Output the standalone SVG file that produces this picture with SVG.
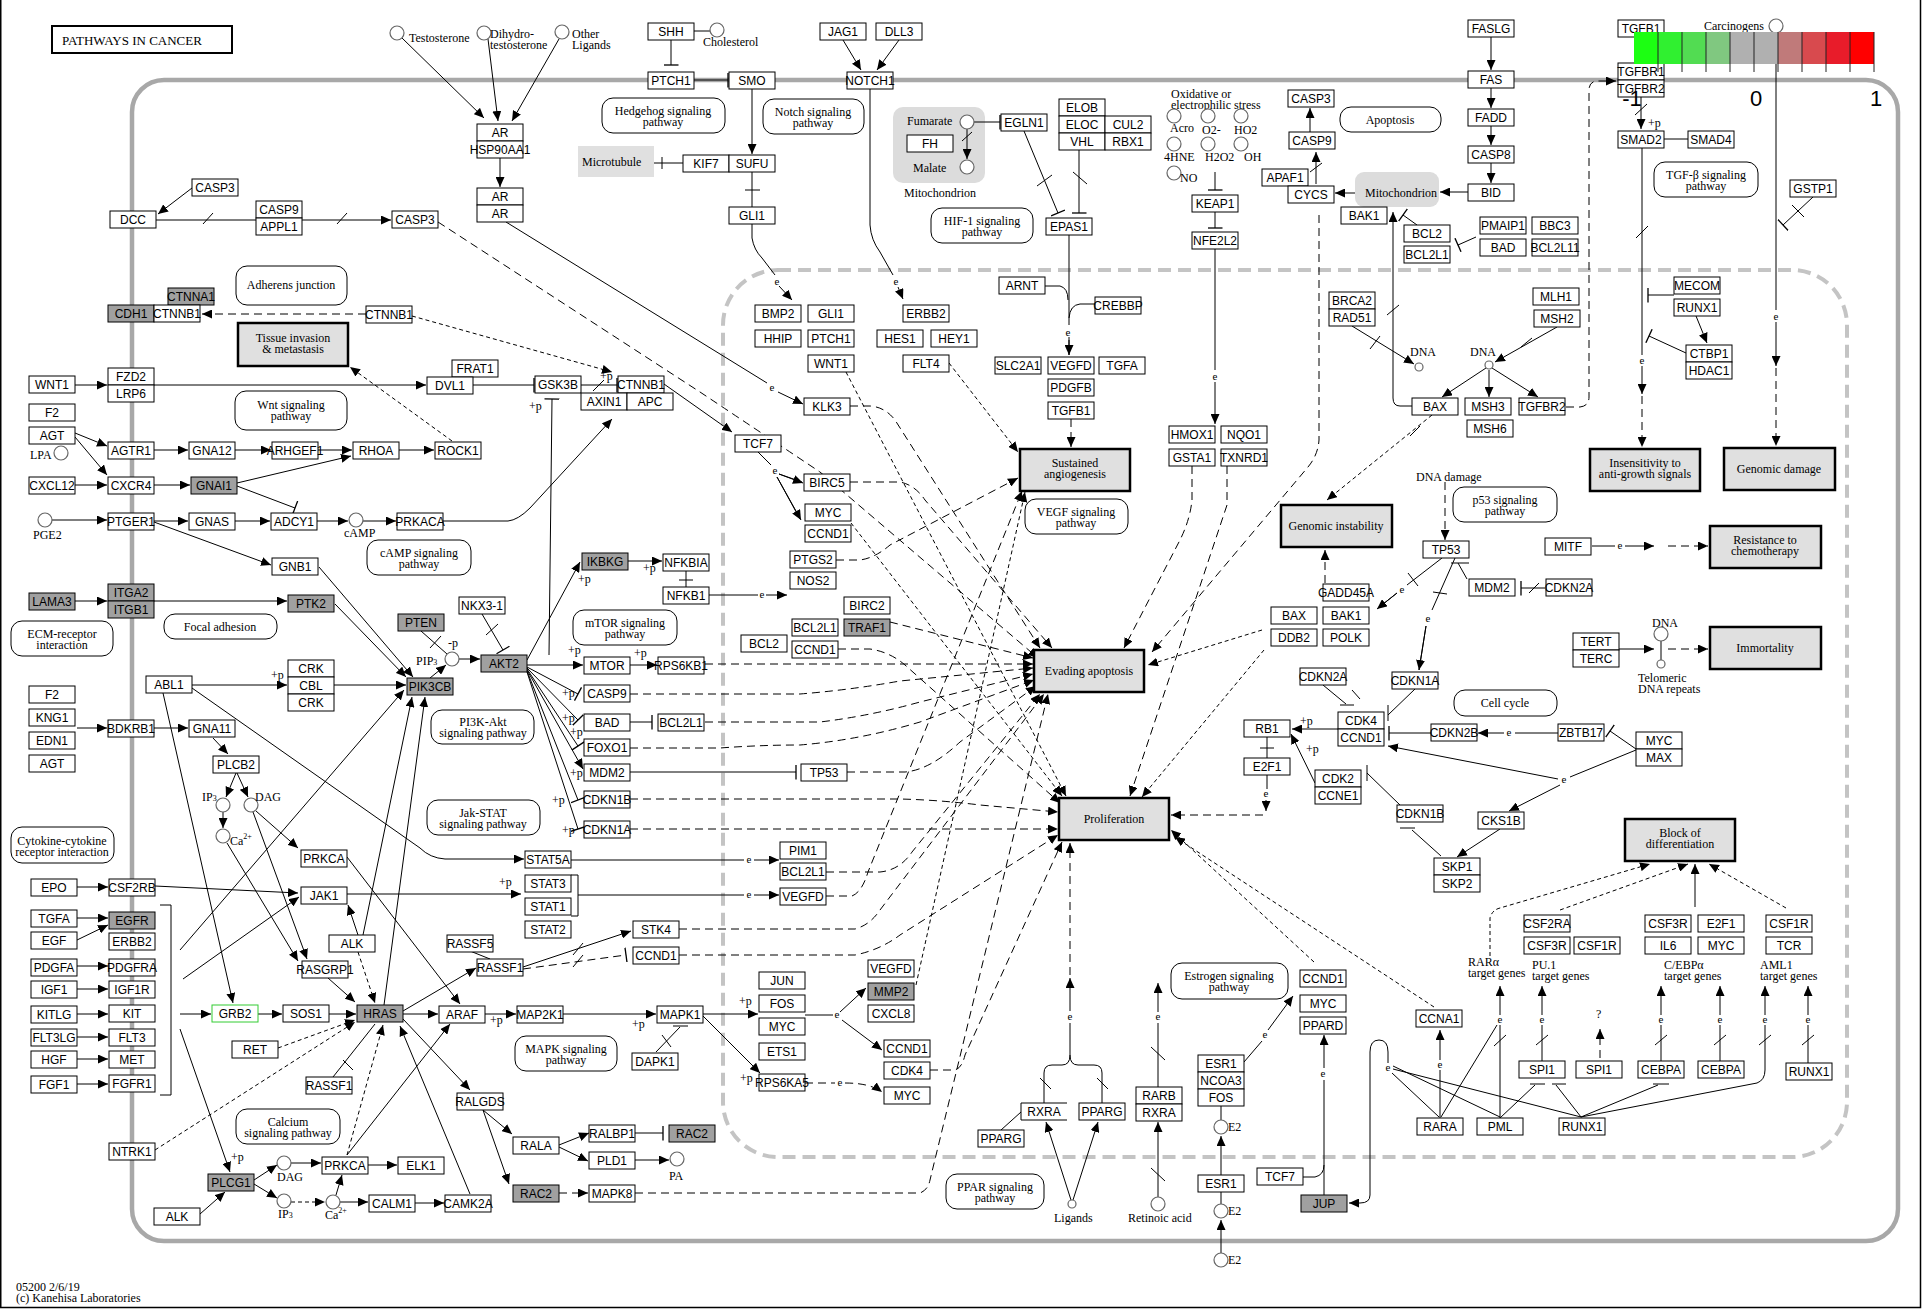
<svg xmlns="http://www.w3.org/2000/svg" width="1922" height="1309" viewBox="0 0 1922 1309">
<defs>
<marker id="a" markerUnits="userSpaceOnUse" markerWidth="10" markerHeight="9" viewBox="0 0 10 9" refX="10" refY="4.5" orient="auto"><path d="M0,0L10,4.5L0,9z" fill="#000"/></marker>
<marker id="b" markerUnits="userSpaceOnUse" markerWidth="3" markerHeight="15" viewBox="0 0 3 15" refX="1.5" refY="7.5" orient="auto"><path d="M1.5,0V15" stroke="#000" stroke-width="1.3"/></marker>
</defs>
<style>
.n rect{fill:#fff;stroke:#000;stroke-width:1}
.n rect.g{fill:#a0a0a0}
.t{font-family:"Liberation Sans",Arial,sans-serif;font-size:12px;text-anchor:middle;fill:#000}
.s{font-family:"Liberation Serif","Times New Roman",serif;font-size:12px;fill:#000}
.m{text-anchor:middle}
.p rect{fill:#e0e0e0;stroke:#000;stroke-width:2.5}
.w rect{fill:#fff;stroke:#000;stroke-width:1}
.c{fill:#fff;stroke:#666;stroke-width:1.2}
#edges path{fill:none;stroke:#000;stroke-width:1}
#edges path.d{stroke-dasharray:8 5}
#edges path.f{stroke-dasharray:4 3}
.e{font-family:"Liberation Serif","Times New Roman",serif;font-size:11px;text-anchor:middle}
</style>
<rect x="0" y="0" width="1922" height="1309" fill="#fff"/>
<path d="M0.75,0V1307.5H1920.5V0" fill="none" stroke="#000" stroke-width="1.5"/>
<g id="compartments">
<rect x="132" y="80" width="1766" height="1161" rx="32" fill="none" stroke="#a8a8a8" stroke-width="4.5"/>
<rect x="723" y="270" width="1124" height="887" rx="55" fill="none" stroke="#c4c4c4" stroke-width="4" stroke-dasharray="13 7"/>
<rect x="893" y="107" width="92" height="76" rx="10" fill="#dcdcdc"/>
<rect x="578" y="146" width="76" height="31" fill="#e0e0e0"/>
<rect x="1355" y="172" width="84" height="35" rx="9" fill="#dcdcdc"/>
</g>
<g id="title"><rect x="52" y="26" width="180" height="27" fill="#fff" stroke="#000" stroke-width="2"/><text class="s" x="62" y="45" style="font-size:13px">PATHWAYS IN CANCER</text></g>

<g id="edges">
<!-- top left -->
<path d="M192,188L158,214" marker-end="url(#a)"/>
<path d="M156,220L391,220" marker-end="url(#a)"/>
<path d="M203,224L213,213M337,224L347,213"/>
<path class="d" d="M438,222L700,392Q760,432 820,472L1038,658" marker-end="url(#a)"/>
<path class="d" d="M366,314L202,314" marker-end="url(#a)"/>
<path class="f" d="M412,316L612,372" marker-end="url(#a)"/>
<path class="f" d="M452,441L350,367" marker-end="url(#a)"/>
<path d="M75,385L107,385" marker-end="url(#a)"/>
<path d="M154,385L426,385" marker-end="url(#a)"/>
<path d="M473,385L534,385" marker-end="url(#b)"/>
<path d="M581,385L617,385" marker-end="url(#b)"/>
<path d="M593,391L604,380"/>
<path d="M549,655L552,399" marker-end="url(#b)"/>
<path d="M443,521L508,521Q518,520 530,508L612,419" marker-end="url(#a)"/>
<path d="M664,384L732,432" marker-end="url(#a)"/>
<path d="M758,452L771,465M779,474L802,482M777,477L800,519"/>
<path d="M779,474L803,483" marker-end="url(#a)"/>
<path d="M777,477L801,520" marker-end="url(#a)"/>
<path d="M402,38L484,118" marker-end="url(#a)"/>
<path d="M488,39L498,121" marker-end="url(#a)"/>
<path d="M559,39L512,121" marker-end="url(#a)"/>
<path d="M500,158L500,187" marker-end="url(#a)"/>
<path d="M506,222L767,383"/>
<path d="M778,392L803,404" marker-end="url(#a)"/>
<path d="M671,40L671,65" marker-end="url(#b)"/>
<path d="M694,31L710,31"/>
<path d="M694,80L728,80" marker-end="url(#b)"/>
<path d="M752,89L752,154" marker-end="url(#a)"/>
<path d="M654,163L683,163M662,157V169"/>
<path d="M752,172L752,207M745,190H760"/>
<path d="M752,224L752,238Q754,250 762,258L775,275"/>
<path d="M779,286L792,300" marker-end="url(#a)"/>
<path d="M870,89L870,225Q871,240 880,252L893,275"/>
<path d="M898,287L903,299" marker-end="url(#a)"/>
<path d="M843,40L861,70" marker-end="url(#a)"/>
<path d="M899,40L877,70" marker-end="url(#a)"/>
<!-- mitochondria / HIF -->
<path d="M974,122L1000,122" marker-end="url(#b)"/>
<path d="M967,129L967,159" marker-end="url(#a)"/>
<path d="M962,141L972,132"/>
<path d="M1024,131L1058,213" marker-end="url(#b)"/>
<path d="M1037,186L1052,175"/>
<path d="M1079,150L1079,213" marker-end="url(#b)"/>
<path d="M1073,172L1087,184"/>
<path d="M1069,235L1069,325M1069,337L1069,355"/>
<path d="M1069,340L1069,355" marker-end="url(#a)"/>
<path d="M1045,286L1060,286Q1068,288 1068,300"/>
<path d="M1095,304L1080,304Q1070,305 1069,318"/>
<path d="M1215,172L1215,190" marker-end="url(#b)"/>
<path d="M1215,212L1215,228" marker-end="url(#b)"/>
<path d="M1215,249L1215,370"/>
<path d="M1215,382L1215,424" marker-end="url(#a)"/>
<path d="M1310,132L1310,108" marker-end="url(#a)"/>
<path d="M1316,184L1316,152" marker-end="url(#a)"/>
<path d="M1310,172L1322,163"/>
<path d="M1355,193L1335,193" marker-end="url(#a)"/>
<path d="M1468,192L1440,192" marker-end="url(#a)"/>
<path d="M1491,37L1491,70" marker-end="url(#a)"/>
<path d="M1491,88L1491,108" marker-end="url(#a)"/>
<path d="M1491,126L1491,145" marker-end="url(#a)"/>
<path d="M1491,163L1491,183" marker-end="url(#a)"/>
<path d="M1412,406L1400,406Q1393,406 1393,398L1393,212" marker-end="url(#a)"/>
<path d="M1387,315L1399,305"/>
<path d="M1417,225L1403,215" marker-end="url(#b)"/>
<path d="M1476,237L1458,245" marker-end="url(#b)"/>
<path class="d" d="M1319,215L1319,440Q1318,455 1308,467L1152,652" marker-end="url(#a)"/>
<path d="M1352,326L1414,364" marker-end="url(#a)"/>
<path d="M1370,349L1380,336"/>
<path d="M1557,327L1495,362" marker-end="url(#a)"/>
<path d="M1521,347L1532,338"/>
<path d="M1486,368L1442,397" marker-end="url(#a)"/>
<path d="M1489,370L1489,397" marker-end="url(#a)"/>
<path d="M1492,368L1538,397" marker-end="url(#a)"/>
<path class="d" d="M1566,407L1580,407Q1589,406 1589,397L1589,90Q1589,81 1598,81L1616,81" marker-end="url(#a)"/>
<path class="f" d="M1432,415L1327,500" marker-end="url(#a)"/>
<path d="M1410,436L1420,426"/>
<path d="M1641,97L1641,129" marker-end="url(#a)"/>
<path d="M1635,115L1647,104"/>
<path d="M1664,139L1688,139"/>
<path d="M1642,148L1642,355"/>
<path d="M1642,366L1642,394" marker-end="url(#a)"/>
<path class="d" d="M1642,396L1642,447" marker-end="url(#a)"/>
<path d="M1636,238L1648,226"/>
<path d="M1674,295L1648,295" marker-end="url(#b)"/>
<path d="M1686,353L1649,336" marker-end="url(#b)"/>
<path d="M1696,316L1707,343" marker-end="url(#a)"/>
<path d="M1776,33L1776,310"/>
<path d="M1776,322L1776,366" marker-end="url(#a)"/>
<path class="d" d="M1776,368L1776,446" marker-end="url(#a)"/>
<path d="M1813,197L1783,225" marker-end="url(#b)"/>
<path d="M1792,205L1804,217"/>
<!-- left receptors -->
<path d="M75,433L107,446" marker-end="url(#a)"/>
<path d="M75,437L107,475" marker-end="url(#a)"/>
<path d="M154,450L188,450" marker-end="url(#a)"/>
<path d="M235,450L271,450" marker-end="url(#a)"/>
<path d="M318,450L352,450" marker-end="url(#a)"/>
<path d="M399,450L434,450" marker-end="url(#a)"/>
<path d="M75,485L107,485" marker-end="url(#a)"/>
<path d="M154,485L190,485" marker-end="url(#a)"/>
<path d="M237,483L351,456" marker-end="url(#a)"/>
<path d="M237,486L295,508" marker-end="url(#b)"/>
<path d="M52,520L107,520" marker-end="url(#a)"/>
<path d="M154,521L188,521" marker-end="url(#a)"/>
<path d="M235,521L270,521" marker-end="url(#a)"/>
<path d="M317,521L348,521" marker-end="url(#a)"/>
<path d="M363,521L396,521" marker-end="url(#a)"/>
<path d="M154,522L271,565" marker-end="url(#a)"/>
<path d="M319,567L413,677" marker-end="url(#a)"/>
<path d="M75,601L107,601" marker-end="url(#a)"/>
<path d="M154,601L287,601" marker-end="url(#a)"/>
<path d="M335,604L406,677" marker-end="url(#a)"/>
<path d="M192,685L287,685" marker-end="url(#a)"/>
<path d="M334,685L406,685" marker-end="url(#a)"/>
<path d="M421,631L447,654M430,648L441,636"/>
<path d="M430,678L446,665" marker-end="url(#a)"/>
<path d="M459,659L480,659" marker-end="url(#a)"/>
<path d="M482,614L503,650" marker-end="url(#b)"/>
<path d="M486,635L498,624"/>
<path d="M163,693L233,1003" marker-end="url(#a)"/>
<path d="M192,688L420,848Q430,858 445,859L524,859" marker-end="url(#a)"/>
<path d="M77,728L107,728" marker-end="url(#a)"/>
<path d="M154,728L188,728" marker-end="url(#a)"/>
<path d="M213,738L228,754" marker-end="url(#a)"/>
<path d="M236,773L226,797" marker-end="url(#a)"/>
<path d="M237,773L248,797" marker-end="url(#a)"/>
<path d="M223,812L223,828" marker-end="url(#a)"/>
<path d="M256,811L298,848" marker-end="url(#a)"/>
<path d="M253,812L307,959" marker-end="url(#a)"/>
<path d="M227,843L298,961" marker-end="url(#a)"/>
<path d="M347,857L460,1004" marker-end="url(#a)"/>
<path d="M363,935L412,697" marker-end="url(#a)"/>
<path d="M384,1005L425,697" marker-end="url(#a)"/>
<path d="M180,950L404,690" marker-end="url(#a)"/>
<path d="M183,979L299,897" marker-end="url(#a)"/>
<path d="M180,1014L211,1014" marker-end="url(#a)"/>
<path d="M180,1029L230,1172" marker-end="url(#a)"/>
<path d="M160,905L171,905L171,1095L160,1095"/>
<path d="M77,918L108,918" marker-end="url(#a)"/>
<path d="M77,940L108,925" marker-end="url(#a)"/>
<path d="M77,966L108,966" marker-end="url(#a)"/>
<path d="M77,989L108,989" marker-end="url(#a)"/>
<path d="M77,1014L108,1014" marker-end="url(#a)"/>
<path d="M77,1037L108,1037" marker-end="url(#a)"/>
<path d="M77,1059L108,1059" marker-end="url(#a)"/>
<path d="M77,1084L108,1084" marker-end="url(#a)"/>
<path d="M77,887L108,887" marker-end="url(#a)"/>
<path d="M155,886L298,893" marker-end="url(#a)"/>
<path d="M358,935L348,905" marker-end="url(#a)"/>
<path class="f" d="M358,952L375,1003" marker-end="url(#a)"/>
<path d="M347,894L521,894" marker-end="url(#a)"/>
<path d="M571,875L578,875L578,916L571,916"/>
<path d="M578,895L744,895"/>
<path d="M754,895L779,895" marker-end="url(#a)"/>
<path d="M571,860L744,860"/>
<path d="M754,860L779,860" marker-end="url(#a)"/>
<path d="M258,1014L282,1014" marker-end="url(#a)"/>
<path d="M329,1014L356,1014" marker-end="url(#a)"/>
<path class="f" d="M278,1048L355,1020" marker-end="url(#a)"/>
<path d="M328,978L355,1002" marker-end="url(#a)"/>
<path d="M333,1077L375,1024M343,1060L353,1070"/>
<path class="f" d="M155,1150L355,1022" marker-end="url(#a)"/>
<path d="M403,1014L438,1014" marker-end="url(#a)"/>
<path d="M403,1011L476,968" marker-end="url(#a)"/>
<path d="M403,1019L470,1090" marker-end="url(#a)"/>
<path class="f" d="M347,1155L383,1025" marker-end="url(#a)"/>
<path d="M347,1155L450,1024" marker-end="url(#a)"/>
<path d="M470,1194L400,1026" marker-end="url(#a)"/>
<path d="M254,1180L277,1165" marker-end="url(#a)"/>
<path d="M254,1184L277,1198" marker-end="url(#a)"/>
<path d="M200,1214L225,1192" marker-end="url(#a)"/>
<path d="M291,1163L321,1163" marker-end="url(#a)"/>
<path class="f" d="M291,1202L325,1202" marker-end="url(#a)"/>
<path d="M336,1195L342,1175" marker-end="url(#a)"/>
<path d="M340,1202L368,1202" marker-end="url(#a)"/>
<path d="M415,1203L444,1203" marker-end="url(#a)"/>
<path d="M368,1165L397,1165" marker-end="url(#a)"/>
<path d="M485,1014L516,1014" marker-end="url(#a)"/>
<path d="M563,1014L656,1014" marker-end="url(#a)"/>
<path d="M656,1052L680,1027M673,1026H688M662,1035L671,1047"/>
<path d="M703,1014L758,1014" marker-end="url(#a)"/>
<path d="M703,1016L760,1073" marker-end="url(#a)"/>
<path d="M805,1015L833,1015"/>
<path d="M840,1012L866,988" marker-end="url(#a)"/>
<path d="M842,1020L882,1050" marker-end="url(#a)"/>
<path class="d" d="M805,1083L835,1083"/>
<path class="d" d="M845,1083Q870,1083 882,1092" marker-end="url(#a)"/>
<path d="M523,967L631,931" marker-end="url(#a)"/>
<path d="M573,955L583,943"/>
<path class="d" d="M523,969L626,955" marker-end="url(#b)"/>
<path d="M573,967L583,955"/>
<path d="M470,951L490,959"/>
<path d="M483,1110L512,1134" marker-end="url(#a)"/>
<path d="M483,1110L509,1184" marker-end="url(#a)"/>
<path d="M559,1145L589,1133" marker-end="url(#a)"/>
<path d="M559,1147L588,1161" marker-end="url(#a)"/>
<path d="M635,1133L663,1133" marker-end="url(#b)"/>
<path d="M635,1160L669,1160" marker-end="url(#a)"/>
<path class="d" d="M559,1193L588,1193" marker-end="url(#a)"/>
<!-- AKT2 fan -->
<path d="M527,660L580,562" marker-end="url(#a)"/>
<path d="M527,665L583,665" marker-end="url(#a)"/>
<path d="M527,667L578,694" marker-end="url(#b)"/>
<path d="M527,668L578,720" marker-end="url(#b)"/>
<path d="M527,669L578,746" marker-end="url(#b)"/>
<path d="M527,670L583,769" marker-end="url(#a)"/>
<path d="M527,671L578,800" marker-end="url(#b)"/>
<path d="M527,672L578,829" marker-end="url(#b)"/>
<path d="M628,561L662,561" marker-end="url(#a)"/>
<path d="M686,571L686,587M679,580H693"/>
<path d="M709,595L758,595"/>
<path d="M766,595L787,595" marker-end="url(#a)"/>
<path d="M630,665L657,665" marker-end="url(#a)"/>
<path d="M630,722L652,722" marker-end="url(#b)"/>
<path d="M630,772L796,772" marker-end="url(#b)"/>
<!-- dashed into phenotypes -->
<path class="d" d="M705,664L1033,664" marker-end="url(#a)"/>
<path class="d" d="M630,694L800,694Q850,690 900,681L1033,668" marker-end="url(#a)"/>
<path class="d" d="M705,722L820,722Q870,716 920,702L1033,674" marker-end="url(#a)"/>
<path class="d" d="M630,748L720,748Q760,745 800,745Q860,740 920,722L1034,680" marker-end="url(#a)"/>
<path class="d" d="M847,772L905,772Q930,770 960,742L1036,686" marker-end="url(#a)"/>
<path class="d" d="M630,799L900,799Q940,800 980,805L1058,812" marker-end="url(#a)"/>
<path class="d" d="M630,829L1058,829" marker-end="url(#a)"/>
<path class="d" d="M826,872L880,872Q900,870 912,852L1040,694" marker-end="url(#a)"/>
<path class="d" d="M826,896L852,896Q862,892 868,872L1022,491" marker-end="url(#a)"/>
<path class="d" d="M679,929L855,929Q870,925 880,910L1044,694" marker-end="url(#a)"/>
<path class="d" d="M679,955L855,955Q880,950 900,935L1058,835" marker-end="url(#a)"/>
<path class="f" d="M916,985L1025,492" marker-end="url(#a)"/>
<path class="d" d="M635,1193L920,1193Q928,1190 930,1180L1048,694" marker-end="url(#a)"/>
<path class="d" d="M930,1070L955,1070Q962,1068 965,1055L1062,842" marker-end="url(#a)"/>
<path class="d" d="M850,406L870,406Q885,407 895,420L1040,648" marker-end="url(#a)"/>
<path class="d" d="M850,482L900,482Q915,485 925,500L1052,648" marker-end="url(#a)"/>
<path class="f" d="M851,523L1062,796" marker-end="url(#a)"/>
<path class="f" d="M846,372L1066,796" marker-end="url(#a)"/>
<path class="d" d="M890,622L1033,658" marker-end="url(#a)"/>
<path class="d" d="M838,649L870,649Q890,652 905,665L1060,803" marker-end="url(#a)"/>
<path class="d" d="M836,560L860,560Q875,558 890,545L1018,478" marker-end="url(#a)"/>
<path class="f" d="M949,363L1018,452" marker-end="url(#a)"/>
<path class="d" d="M1071,419L1071,447" marker-end="url(#a)"/>
<path class="d" d="M1192,466L1192,500Q1190,520 1180,540L1124,648" marker-end="url(#a)"/>
<path class="d" d="M1227,466L1227,505L1130,796" marker-end="url(#a)"/>
<path class="f" d="M1262,630L1148,665" marker-end="url(#a)"/>
<path class="f" d="M1264,650L1142,797" marker-end="url(#a)"/>
<path class="f" d="M1314,962L1171,830" marker-end="url(#a)"/>
<path class="f" d="M1434,1007L1175,837" marker-end="url(#a)"/>
<path class="d" d="M1070,975L1070,843" marker-end="url(#a)"/>
<!-- p53 / cell cycle -->
<path class="d" d="M1325,583L1325,550" marker-end="url(#a)"/>
<path class="d" d="M1445,482L1445,540" marker-end="url(#a)"/>
<path d="M1442,558L1407,585M1397,593L1378,608"/>
<path d="M1397,593L1377,609" marker-end="url(#a)"/>
<path d="M1408,573L1418,586"/>
<path d="M1455,558L1432,610M1426,626L1419,670"/>
<path d="M1426,626L1419,670" marker-end="url(#a)"/>
<path d="M1433,592L1447,594"/>
<path d="M1467,579L1458,563M1451,563H1469"/>
<path d="M1545,588L1521,588" marker-end="url(#b)"/>
<path d="M1529,593L1539,583"/>
<path d="M1592,546L1615,546"/>
<path d="M1625,546L1654,546" marker-end="url(#a)"/>
<path class="d" d="M1668,546L1708,546" marker-end="url(#a)"/>
<path d="M1619,649L1654,649" marker-end="url(#a)"/>
<path d="M1661,641L1661,660"/>
<path class="d" d="M1668,649L1708,649" marker-end="url(#a)"/>
<path d="M1323,685L1346,704M1340,705H1354M1352,690L1360,699"/>
<path d="M1415,689L1388,715M1388,705V721"/>
<path d="M1338,729L1292,729" marker-end="url(#a)"/>
<path d="M1315,783L1291,734" marker-end="url(#a)"/>
<path d="M1267,737L1267,758M1260,748H1274"/>
<path d="M1267,775L1267,789"/>
<path d="M1266,800L1266,811" marker-end="url(#a)"/>
<path class="d" d="M1263,815L1171,815" marker-end="url(#a)"/>
<path d="M1431,733L1389,733" marker-end="url(#b)"/>
<path d="M1558,733L1515,733"/>
<path d="M1504,733L1478,733" marker-end="url(#a)"/>
<path d="M1636,749L1610,731" marker-end="url(#b)"/>
<path d="M1636,750L1570,777"/>
<path d="M1558,779L1388,746" marker-end="url(#a)"/>
<path d="M1560,785L1509,811" marker-end="url(#a)"/>
<path d="M1500,829L1457,857" marker-end="url(#a)"/>
<path d="M1400,805L1367,773M1367,765V781"/>
<path d="M1441,856L1412,830M1400,828H1415"/>
<!-- bottom right -->
<path d="M1244,1062L1262,1041"/>
<path d="M1268,1030L1293,996" marker-end="url(#a)"/>
<path d="M1221,1253L1221,1220" marker-end="url(#a)"/>
<path d="M1221,1204L1221,1192"/>
<path d="M1221,1175L1221,1136" marker-end="url(#a)"/>
<path d="M1221,1120L1221,1106"/>
<path d="M1158,1197L1158,1122" marker-end="url(#a)"/>
<path d="M1151,1168L1165,1181"/>
<path d="M1158,1087L1158,1023"/>
<path d="M1158,1012L1158,983" marker-end="url(#a)"/>
<path d="M1151,1047L1165,1060"/>
<path d="M1071,1200L1046,1122" marker-end="url(#a)"/>
<path d="M1073,1200L1098,1122" marker-end="url(#a)"/>
<path d="M1001,1130L1021,1112"/>
<path d="M1044,1103L1044,1073Q1044,1065 1052,1065L1062,1065Q1070,1065 1070,1055Q1070,1065 1078,1065L1094,1065Q1102,1065 1102,1073L1102,1103"/>
<path d="M1040,1078L1051,1089M1097,1078L1108,1089"/>
<path d="M1070,1055L1070,1023"/>
<path d="M1070,1011L1070,978" marker-end="url(#a)"/>
<path d="M1324,1195L1324,1080"/>
<path d="M1324,1068L1324,1035" marker-end="url(#a)"/>
<path d="M1303,1177L1315,1177Q1324,1175 1324,1165"/>
<path d="M1388,1063L1388,1052Q1388,1040 1379,1040Q1370,1040 1370,1052L1370,1195Q1370,1203 1360,1203L1349,1203" marker-end="url(#a)"/>
<path d="M1393,1066L1500,1117M1393,1069L1581,1117M1392,1073L1439,1117"/>
<path d="M1441,1117L1497,1025"/>
<path d="M1440,1118L1440,1070"/>
<path d="M1440,1060L1440,1030" marker-end="url(#a)"/>
<path d="M1500,1118L1500,1025"/>
<path d="M1500,1015L1500,986" marker-end="url(#a)"/>
<path d="M1494,1046L1506,1035"/>
<path d="M1500,1118L1535,1085M1530,1084H1545"/>
<path d="M1581,1117L1556,1085M1552,1084H1566"/>
<path d="M1581,1117L1658,1085M1653,1084H1669"/>
<path d="M1581,1117L1757,1083Q1765,1080 1765,1070L1765,1025"/>
<path d="M1765,1015L1765,986" marker-end="url(#a)"/>
<path d="M1759,1045L1771,1035"/>
<path d="M1542,1061L1542,1025"/>
<path d="M1542,1015L1542,986" marker-end="url(#a)"/>
<path d="M1536,1045L1548,1035"/>
<path class="d" d="M1600,1058L1600,1029" marker-end="url(#a)"/>
<path d="M1661,1061L1661,1025"/>
<path d="M1661,1015L1661,986" marker-end="url(#a)"/>
<path d="M1655,1045L1667,1035"/>
<path d="M1720,1061L1720,1025"/>
<path d="M1720,1015L1720,986" marker-end="url(#a)"/>
<path d="M1714,1045L1726,1035"/>
<path d="M1808,1063L1808,1025"/>
<path d="M1808,1015L1808,986" marker-end="url(#a)"/>
<path d="M1802,1045L1814,1035"/>
<path class="f" d="M1490,956L1490,918Q1492,910 1500,908L1650,864" marker-end="url(#a)"/>
<path class="f" d="M1560,910L1688,864" marker-end="url(#a)"/>
<path d="M1695,907L1695,864" marker-end="url(#a)"/>
<path class="f" d="M1786,908L1709,864" marker-end="url(#a)"/>
<text class="e" x="772" y="391">e</text>
<text class="e" x="775" y="474">e</text>
<text class="e" x="777" y="285">e</text>
<text class="e" x="896" y="285">e</text>
<text class="e" x="1068" y="336">e</text>
<text class="e" x="1215" y="380">e</text>
<text class="e" x="1642" y="364">e</text>
<text class="e" x="1776" y="320">e</text>
<text class="e" x="749" y="898">e</text>
<text class="e" x="749" y="863">e</text>
<text class="e" x="762" y="598">e</text>
<text class="e" x="837" y="1018">e</text>
<text class="e" x="840" y="1086">e</text>
<text class="e" x="1402" y="593">e</text>
<text class="e" x="1428" y="622">e</text>
<text class="e" x="1620" y="549">e</text>
<text class="e" x="1266" y="797">e</text>
<text class="e" x="1509" y="736">e</text>
<text class="e" x="1564" y="783">e</text>
<text class="e" x="1265" y="1038">e</text>
<text class="e" x="1158" y="1020">e</text>
<text class="e" x="1070" y="1020">e</text>
<text class="e" x="1323" y="1077">e</text>
<text class="e" x="1388" y="1071">e</text>
<text class="e" x="1440" y="1068">e</text>
<text class="e" x="1500" y="1023">e</text>
<text class="e" x="1542" y="1023">e</text>
<text class="e" x="1661" y="1023">e</text>
<text class="e" x="1720" y="1023">e</text>
<text class="e" x="1765" y="1023">e</text>
<text class="e" x="1808" y="1023">e</text>
<text class="s" x="1596" y="1018">?</text>
<text class="s" x="600" y="380">+p</text>
<text class="s" x="529" y="410">+p</text>
<text class="s" x="271" y="679">+p</text>
<text class="s" x="499" y="886">+p</text>
<text class="s" x="231" y="1161">+p</text>
<text class="s" x="490" y="1024">+p</text>
<text class="s" x="632" y="1028">+p</text>
<text class="s" x="739" y="1005">+p</text>
<text class="s" x="740" y="1082">+p</text>
<text class="s" x="578" y="583">+p</text>
<text class="s" x="643" y="572">+p</text>
<text class="s" x="568" y="654">+p</text>
<text class="s" x="634" y="657">+p</text>
<text class="s" x="562" y="697">+p</text>
<text class="s" x="562" y="722">+p</text>
<text class="s" x="570" y="736">+p</text>
<text class="s" x="570" y="777">+p</text>
<text class="s" x="552" y="804">+p</text>
<text class="s" x="562" y="834">+p</text>
<text class="s" x="1648" y="127">+p</text>
<text class="s" x="1300" y="725">+p</text>
<text class="s" x="1306" y="753">+p</text>
<text class="s" x="448" y="647">-p</text>
</g>

<g id="circles">
<circle class="c" cx="397" cy="33" r="7"/><text class="s" x="409" y="42">Testosterone</text>
<circle class="c" cx="484" cy="33" r="7"/><text class="s" x="490" y="38">Dihydro-</text><text class="s" x="490" y="49">testosterone</text>
<circle class="c" cx="562" cy="32" r="7"/><text class="s" x="572" y="38">Other</text><text class="s" x="572" y="49">Ligands</text>
<circle class="c" cx="717" cy="30" r="7"/><text class="s" x="703" y="46">Cholesterol</text>
<circle class="c" cx="61" cy="453" r="7"/><text class="s" x="30" y="459">LPA</text>
<circle class="c" cx="45" cy="520" r="7"/><text class="s" x="33" y="539">PGE2</text>
<circle class="c" cx="356" cy="520" r="7"/><text class="s" x="344" y="537">cAMP</text>
<circle class="c" cx="452" cy="659" r="7"/><text class="s" x="416" y="665">PIP<tspan font-size="8">3</tspan></text>
<circle class="c" cx="223" cy="805" r="7"/><text class="s" x="202" y="801">IP<tspan font-size="8">3</tspan></text>
<circle class="c" cx="251" cy="805" r="7"/><text class="s" x="255" y="801">DAG</text>
<circle class="c" cx="223" cy="836" r="7"/><text class="s" x="230" y="845">Ca<tspan font-size="8" dy="-6">2+</tspan></text>
<circle class="c" cx="284" cy="1163" r="7"/><text class="s" x="277" y="1181">DAG</text>
<circle class="c" cx="284" cy="1201" r="7"/><text class="s" x="278" y="1218">IP<tspan font-size="8">3</tspan></text>
<circle class="c" cx="333" cy="1202" r="7"/><text class="s" x="325" y="1219">Ca<tspan font-size="8" dy="-6">2+</tspan></text>
<circle class="c" cx="677" cy="1159" r="7"/><text class="s m" x="676" y="1180">PA</text>
<circle class="c" cx="967" cy="122" r="7"/><text class="s" x="907" y="125">Fumarate</text>
<circle class="c" cx="967" cy="167" r="7"/><text class="s" x="913" y="172">Malate</text>
<text class="s" x="904" y="197">Mitochondrion</text>
<text class="s" x="1171" y="98">Oxidative or</text><text class="s" x="1171" y="109">electrophilic stress</text>
<circle class="c" cx="1174" cy="116" r="7"/><circle class="c" cx="1208" cy="116" r="7"/><circle class="c" cx="1241" cy="116" r="7"/>
<circle class="c" cx="1174" cy="144" r="7"/><circle class="c" cx="1208" cy="144" r="7"/><circle class="c" cx="1241" cy="144" r="7"/>
<circle class="c" cx="1174" cy="173" r="7"/>
<text class="s" x="1170" y="132">Acro</text><text class="s" x="1202" y="134">O2-</text><text class="s" x="1234" y="134">HO2</text>
<text class="s" x="1164" y="161">4HNE</text><text class="s" x="1205" y="161">H2O2</text><text class="s" x="1244" y="161">OH</text>
<text class="s" x="1180" y="182">NO</text>
<circle class="c" cx="1419" cy="367" r="4" stroke="#000"/><text class="s" x="1410" y="356">DNA</text>
<circle class="c" cx="1489" cy="365" r="4" stroke="#000"/><text class="s" x="1470" y="356">DNA</text>
<circle class="c" cx="1776" cy="26" r="7"/><text class="s" x="1704" y="30">Carcinogens</text>
<text class="s" x="1416" y="481">DNA damage</text>
<circle class="c" cx="1661" cy="634" r="7"/><text class="s" x="1652" y="627">DNA</text>
<circle class="c" cx="1661" cy="664" r="4" stroke="#000"/><text class="s" x="1638" y="682">Telomeric</text><text class="s" x="1638" y="693">DNA repeats</text>
<circle class="c" cx="1072" cy="1204" r="4" stroke="#000"/><text class="s" x="1054" y="1222">Ligands</text>
<circle class="c" cx="1158" cy="1204" r="7"/><text class="s" x="1128" y="1222">Retinoic acid</text>
<circle class="c" cx="1221" cy="1127" r="7"/><text class="s" x="1228" y="1131">E2</text>
<circle class="c" cx="1221" cy="1211" r="7"/><text class="s" x="1228" y="1215">E2</text>
<circle class="c" cx="1221" cy="1260" r="7"/><text class="s" x="1228" y="1264">E2</text>
<text class="s" x="1468" y="966">RARα</text><text class="s" x="1468" y="977">target genes</text>
<text class="s" x="1532" y="969">PU.1</text><text class="s" x="1532" y="980">target genes</text>
<text class="s" x="1664" y="969">C/EBPα</text><text class="s" x="1664" y="980">target genes</text>
<text class="s" x="1760" y="969">AML1</text><text class="s" x="1760" y="980">target genes</text>
<text class="s" x="1365" y="197">Mitochondrion</text>
<text class="s" x="582" y="166">Microtubule</text>
<text class="s" x="16" y="1291">05200 2/6/19</text>
<text class="s" x="16" y="1302">(c) Kanehisa Laboratories</text>
</g>

<g id="pathway_labels" class="w">
<g id="pw_adherens"><rect x="236" y="266" width="111" height="39" rx="11"/><text class="s m" x="291" y="289">Adherens junction</text></g>
<g id="pw_wnt"><rect x="235" y="391" width="112" height="39" rx="11"/><text class="s m" x="291" y="409">Wnt signaling</text><text class="s m" x="291" y="420">pathway</text></g>
<g id="pw_hedgehog"><rect x="602" y="98" width="123" height="35" rx="11"/><text class="s m" x="663" y="115">Hedgehog signaling</text><text class="s m" x="663" y="126">pathway</text></g>
<g id="pw_notch"><rect x="763" y="99" width="101" height="35" rx="11"/><text class="s m" x="813" y="116">Notch signaling</text><text class="s m" x="813" y="127">pathway</text></g>
<g id="pw_hif"><rect x="931" y="208" width="102" height="35" rx="11"/><text class="s m" x="982" y="225">HIF-1 signaling</text><text class="s m" x="982" y="236">pathway</text></g>
<g id="pw_apoptosis"><rect x="1340" y="107" width="101" height="25" rx="11"/><text class="s m" x="1390" y="124">Apoptosis</text></g>
<g id="pw_tgfb"><rect x="1654" y="162" width="104" height="35" rx="11"/><text class="s m" x="1706" y="179">TGF-β signaling</text><text class="s m" x="1706" y="190">pathway</text></g>
<g id="pw_camp"><rect x="367" y="540" width="104" height="35" rx="11"/><text class="s m" x="419" y="557">cAMP signaling</text><text class="s m" x="419" y="568">pathway</text></g>
<g id="pw_ecm"><rect x="11" y="621" width="102" height="35" rx="11"/><text class="s m" x="62" y="638">ECM-receptor</text><text class="s m" x="62" y="649">interaction</text></g>
<g id="pw_focal"><rect x="164" y="614" width="113" height="25" rx="11"/><text class="s m" x="220" y="631">Focal adhesion</text></g>
<g id="pw_mtor"><rect x="573" y="610" width="104" height="35" rx="11"/><text class="s m" x="625" y="627">mTOR signaling</text><text class="s m" x="625" y="638">pathway</text></g>
<g id="pw_pi3k"><rect x="431" y="710" width="103" height="34" rx="11"/><text class="s m" x="483" y="726">PI3K-Akt</text><text class="s m" x="483" y="737">signaling pathway</text></g>
<g id="pw_jak"><rect x="427" y="800" width="113" height="35" rx="11"/><text class="s m" x="483" y="817">Jak-STAT</text><text class="s m" x="483" y="828">signaling pathway</text></g>
<g id="pw_cytokine"><rect x="11" y="827" width="103" height="36" rx="11"/><text class="s m" x="62" y="845">Cytokine-cytokine</text><text class="s m" x="62" y="856">receptor interaction</text></g>
<g id="pw_vegf"><rect x="1025" y="499" width="103" height="35" rx="11"/><text class="s m" x="1076" y="516">VEGF signaling</text><text class="s m" x="1076" y="527">pathway</text></g>
<g id="pw_p53"><rect x="1453" y="487" width="104" height="35" rx="11"/><text class="s m" x="1505" y="504">p53 signaling</text><text class="s m" x="1505" y="515">pathway</text></g>
<g id="pw_cellcycle"><rect x="1454" y="690" width="103" height="26" rx="11"/><text class="s m" x="1505" y="707">Cell cycle</text></g>
<g id="pw_mapk"><rect x="515" y="1036" width="102" height="35" rx="11"/><text class="s m" x="566" y="1053">MAPK signaling</text><text class="s m" x="566" y="1064">pathway</text></g>
<g id="pw_calcium"><rect x="236" y="1109" width="104" height="35" rx="11"/><text class="s m" x="288" y="1126">Calcium</text><text class="s m" x="288" y="1137">signaling pathway</text></g>
<g id="pw_ppar"><rect x="946" y="1174" width="98" height="35" rx="11"/><text class="s m" x="995" y="1191">PPAR signaling</text><text class="s m" x="995" y="1202">pathway</text></g>
<g id="pw_estrogen"><rect x="1171" y="963" width="117" height="36" rx="11"/><text class="s m" x="1229" y="980">Estrogen signaling</text><text class="s m" x="1229" y="991">pathway</text></g>
</g>

<g id="phenotypes" class="p">
<g id="ph_tissue"><rect x="238" y="323" width="110" height="43"/><text class="s m" x="293" y="342">Tissue invasion</text><text class="s m" x="293" y="353">&amp; metastasis</text></g>
<g id="ph_angio"><rect x="1020" y="449" width="110" height="42"/><text class="s m" x="1075" y="467">Sustained</text><text class="s m" x="1075" y="478">angiogenesis</text></g>
<g id="ph_evading"><rect x="1034" y="650" width="110" height="42"/><text class="s m" x="1089" y="675">Evading apoptosis</text></g>
<g id="ph_prolif"><rect x="1059" y="798" width="110" height="42"/><text class="s m" x="1114" y="823">Proliferation</text></g>
<g id="ph_geninst"><rect x="1281" y="505" width="111" height="42"/><text class="s m" x="1336" y="530">Genomic instability</text></g>
<g id="ph_insens"><rect x="1590" y="449" width="110" height="42"/><text class="s m" x="1645" y="467">Insensitivity to</text><text class="s m" x="1645" y="478">anti-growth signals</text></g>
<g id="ph_gendam"><rect x="1724" y="448" width="111" height="42"/><text class="s m" x="1779" y="473">Genomic damage</text></g>
<g id="ph_resist"><rect x="1710" y="526" width="111" height="42"/><text class="s m" x="1765" y="544">Resistance to</text><text class="s m" x="1765" y="555">chemotherapy</text></g>
<g id="ph_immort"><rect x="1710" y="627" width="111" height="42"/><text class="s m" x="1765" y="652">Immortality</text></g>
<g id="ph_block"><rect x="1625" y="819" width="110" height="42"/><text class="s m" x="1680" y="837">Block of</text><text class="s m" x="1680" y="848">differentiation</text></g>
</g>

<g id="nodes" class="n">
<g id="n_casp3a"><rect x="192" y="179" width="46" height="17"/><text class="t" x="215" y="192">CASP3</text></g>
<g id="n_dcc"><rect x="110" y="211" width="46" height="17"/><text class="t" x="133" y="224">DCC</text></g>
<g id="n_casp9_appl1"><rect x="256" y="201" width="46" height="17"/><text class="t" x="279" y="214">CASP9</text><rect x="256" y="218" width="46" height="17"/><text class="t" x="279" y="231">APPL1</text></g>
<g id="n_casp3b"><rect x="392" y="211" width="46" height="17"/><text class="t" x="415" y="224">CASP3</text></g>
<g id="n_ctnna1"><rect class="g" x="168" y="288" width="46" height="17"/><text class="t" x="191" y="301">CTNNA1</text></g>
<g id="n_cdh1"><rect class="g" x="108" y="305" width="46" height="17"/><text class="t" x="131" y="318">CDH1</text><rect x="154" y="305" width="46" height="17"/><text class="t" x="177" y="318">CTNNB1</text></g>
<g id="n_ctnnb1b"><rect x="366" y="306" width="46" height="17"/><text class="t" x="389" y="319">CTNNB1</text></g>
<g id="n_fzd2"><rect x="108" y="368" width="46" height="17"/><text class="t" x="131" y="381">FZD2</text><rect x="108" y="385" width="46" height="17"/><text class="t" x="131" y="398">LRP6</text></g>
<g id="n_wnt1a"><rect x="29" y="376" width="46" height="17"/><text class="t" x="52" y="389">WNT1</text></g>
<g id="n_frat1"><rect x="452" y="360" width="46" height="17"/><text class="t" x="475" y="373">FRAT1</text></g>
<g id="n_dvl1"><rect x="427" y="377" width="46" height="17"/><text class="t" x="450" y="390">DVL1</text></g>
<g id="n_f2a"><rect x="29" y="404" width="46" height="17"/><text class="t" x="52" y="417">F2</text></g>
<g id="n_agta"><rect x="29" y="427" width="46" height="17"/><text class="t" x="52" y="440">AGT</text></g>
<g id="n_agtr1"><rect x="108" y="442" width="46" height="17"/><text class="t" x="131" y="455">AGTR1</text></g>
<g id="n_gna12"><rect x="189" y="442" width="46" height="17"/><text class="t" x="212" y="455">GNA12</text></g>
<g id="n_arhgef1"><rect x="272" y="442" width="46" height="17"/><text class="t" x="295" y="455">ARHGEF1</text></g>
<g id="n_rhoa"><rect x="353" y="442" width="46" height="17"/><text class="t" x="376" y="455">RHOA</text></g>
<g id="n_rock1"><rect x="435" y="442" width="46" height="17"/><text class="t" x="458" y="455">ROCK1</text></g>
<g id="n_cxcl12"><rect x="29" y="477" width="46" height="17"/><text class="t" x="52" y="490">CXCL12</text></g>
<g id="n_cxcr4"><rect x="108" y="477" width="46" height="17"/><text class="t" x="131" y="490">CXCR4</text></g>
<g id="n_gnai1"><rect class="g" x="191" y="477" width="46" height="17"/><text class="t" x="214" y="490">GNAI1</text></g>
<g id="n_ptger1"><rect x="108" y="513" width="46" height="17"/><text class="t" x="131" y="526">PTGER1</text></g>
<g id="n_gnas"><rect x="189" y="513" width="46" height="17"/><text class="t" x="212" y="526">GNAS</text></g>
<g id="n_adcy1"><rect x="271" y="513" width="46" height="17"/><text class="t" x="294" y="526">ADCY1</text></g>
<g id="n_prkaca"><rect x="397" y="513" width="46" height="17"/><text class="t" x="420" y="526">PRKACA</text></g>
<g id="n_gnb1"><rect x="272" y="558" width="46" height="17"/><text class="t" x="295" y="571">GNB1</text></g>
<g id="n_lama3"><rect class="g" x="29" y="593" width="46" height="17"/><text class="t" x="52" y="606">LAMA3</text></g>
<g id="n_itga2"><rect class="g" x="108" y="584" width="46" height="17"/><text class="t" x="131" y="597">ITGA2</text><rect class="g" x="108" y="601" width="46" height="17"/><text class="t" x="131" y="614">ITGB1</text></g>
<g id="n_ptk2"><rect class="g" x="288" y="595" width="46" height="17"/><text class="t" x="311" y="608">PTK2</text></g>
<g id="n_pten"><rect class="g" x="398" y="614" width="46" height="17"/><text class="t" x="421" y="627">PTEN</text></g>
<g id="n_nkx31"><rect x="459" y="597" width="46" height="17"/><text class="t" x="482" y="610">NKX3-1</text></g>
<g id="n_pik3cb"><rect class="g" x="407" y="678" width="46" height="17"/><text class="t" x="430" y="691">PIK3CB</text></g>
<g id="n_abl1"><rect x="146" y="676" width="46" height="17"/><text class="t" x="169" y="689">ABL1</text></g>
<g id="n_crk"><rect x="288" y="660" width="46" height="17"/><text class="t" x="311" y="673">CRK</text><rect x="288" y="677" width="46" height="17"/><text class="t" x="311" y="690">CBL</text><rect x="288" y="694" width="46" height="17"/><text class="t" x="311" y="707">CRK</text></g>
<g id="n_f2b"><rect x="29" y="686" width="46" height="17"/><text class="t" x="52" y="699">F2</text></g>
<g id="n_kng1"><rect x="29" y="709" width="46" height="17"/><text class="t" x="52" y="722">KNG1</text></g>
<g id="n_edn1"><rect x="29" y="732" width="46" height="17"/><text class="t" x="52" y="745">EDN1</text></g>
<g id="n_agtb"><rect x="29" y="755" width="46" height="17"/><text class="t" x="52" y="768">AGT</text></g>
<g id="n_bdkrb1"><rect x="108" y="720" width="46" height="17"/><text class="t" x="131" y="733">BDKRB1</text></g>
<g id="n_gna11"><rect x="189" y="720" width="46" height="17"/><text class="t" x="212" y="733">GNA11</text></g>
<g id="n_plcb2"><rect x="213" y="756" width="46" height="17"/><text class="t" x="236" y="769">PLCB2</text></g>
<g id="n_prkcaa"><rect x="301" y="850" width="46" height="17"/><text class="t" x="324" y="863">PRKCA</text></g>
<g id="n_epo"><rect x="31" y="879" width="46" height="17"/><text class="t" x="54" y="892">EPO</text></g>
<g id="n_csf2rb"><rect x="109" y="879" width="46" height="17"/><text class="t" x="132" y="892">CSF2RB</text></g>
<g id="n_jak1"><rect x="301" y="887" width="46" height="17"/><text class="t" x="324" y="900">JAK1</text></g>
<g id="n_tgfa"><rect x="31" y="910" width="46" height="17"/><text class="t" x="54" y="923">TGFA</text></g>
<g id="n_egf"><rect x="31" y="932" width="46" height="17"/><text class="t" x="54" y="945">EGF</text></g>
<g id="n_pdgfa"><rect x="31" y="959" width="46" height="17"/><text class="t" x="54" y="972">PDGFA</text></g>
<g id="n_igf1"><rect x="31" y="981" width="46" height="17"/><text class="t" x="54" y="994">IGF1</text></g>
<g id="n_kitlg"><rect x="31" y="1006" width="46" height="17"/><text class="t" x="54" y="1019">KITLG</text></g>
<g id="n_flt3lg"><rect x="31" y="1029" width="46" height="17"/><text class="t" x="54" y="1042">FLT3LG</text></g>
<g id="n_hgf"><rect x="31" y="1051" width="46" height="17"/><text class="t" x="54" y="1064">HGF</text></g>
<g id="n_fgf1"><rect x="31" y="1076" width="46" height="17"/><text class="t" x="54" y="1089">FGF1</text></g>
<g id="n_egfr"><rect class="g" x="109" y="912" width="46" height="17"/><text class="t" x="132" y="925">EGFR</text></g>
<g id="n_erbb2a"><rect x="109" y="933" width="46" height="17"/><text class="t" x="132" y="946">ERBB2</text></g>
<g id="n_pdgfra"><rect x="109" y="959" width="46" height="17"/><text class="t" x="132" y="972">PDGFRA</text></g>
<g id="n_igf1r"><rect x="109" y="981" width="46" height="17"/><text class="t" x="132" y="994">IGF1R</text></g>
<g id="n_kit"><rect x="109" y="1005" width="46" height="17"/><text class="t" x="132" y="1018">KIT</text></g>
<g id="n_flt3"><rect x="109" y="1029" width="46" height="17"/><text class="t" x="132" y="1042">FLT3</text></g>
<g id="n_met"><rect x="109" y="1051" width="46" height="17"/><text class="t" x="132" y="1064">MET</text></g>
<g id="n_fgfr1"><rect x="109" y="1075" width="46" height="17"/><text class="t" x="132" y="1088">FGFR1</text></g>
<g id="n_alka"><rect x="329" y="935" width="46" height="17"/><text class="t" x="352" y="948">ALK</text></g>
<g id="n_rasgrp1"><rect x="302" y="961" width="46" height="17"/><text class="t" x="325" y="974">RASGRP1</text></g>
<g id="n_rassf5"><rect x="447" y="935" width="46" height="17"/><text class="t" x="470" y="948">RASSF5</text></g>
<g id="n_rassf1a"><rect x="477" y="959" width="46" height="17"/><text class="t" x="500" y="972">RASSF1</text></g>
<g id="n_grb2"><rect x="212" y="1005" width="46" height="17" style="stroke:#3c3"/><text class="t" x="235" y="1018">GRB2</text></g>
<g id="n_sos1"><rect x="283" y="1005" width="46" height="17"/><text class="t" x="306" y="1018">SOS1</text></g>
<g id="n_hras"><rect class="g" x="357" y="1005" width="46" height="17"/><text class="t" x="380" y="1018">HRAS</text></g>
<g id="n_araf"><rect x="439" y="1006" width="46" height="17"/><text class="t" x="462" y="1019">ARAF</text></g>
<g id="n_ret"><rect x="232" y="1041" width="46" height="17"/><text class="t" x="255" y="1054">RET</text></g>
<g id="n_rassf1b"><rect x="306" y="1077" width="46" height="17"/><text class="t" x="329" y="1090">RASSF1</text></g>
<g id="n_ralgds"><rect x="457" y="1093" width="46" height="17"/><text class="t" x="480" y="1106">RALGDS</text></g>
<g id="n_ntrk1"><rect x="109" y="1143" width="46" height="17"/><text class="t" x="132" y="1156">NTRK1</text></g>
<g id="n_plcg1"><rect class="g" x="208" y="1174" width="46" height="17"/><text class="t" x="231" y="1187">PLCG1</text></g>
<g id="n_prkcab"><rect x="322" y="1157" width="46" height="17"/><text class="t" x="345" y="1170">PRKCA</text></g>
<g id="n_elk1"><rect x="398" y="1157" width="46" height="17"/><text class="t" x="421" y="1170">ELK1</text></g>
<g id="n_calm1"><rect x="369" y="1195" width="46" height="17"/><text class="t" x="392" y="1208">CALM1</text></g>
<g id="n_camk2a"><rect x="445" y="1195" width="46" height="17"/><text class="t" x="468" y="1208">CAMK2A</text></g>
<g id="n_alkb"><rect x="154" y="1208" width="46" height="17"/><text class="t" x="177" y="1221">ALK</text></g>
<g id="n_ar1"><rect x="477" y="124" width="46" height="17"/><text class="t" x="500" y="137">AR</text><rect x="477" y="141" width="46" height="17"/><text class="t" x="500" y="154">HSP90AA1</text></g>
<g id="n_ar2"><rect x="477" y="188" width="46" height="17"/><text class="t" x="500" y="201">AR</text><rect x="477" y="205" width="46" height="17"/><text class="t" x="500" y="218">AR</text></g>
<g id="n_shh"><rect x="648" y="23" width="46" height="17"/><text class="t" x="671" y="36">SHH</text></g>
<g id="n_ptch1a"><rect x="648" y="72" width="46" height="17"/><text class="t" x="671" y="85">PTCH1</text></g>
<g id="n_smo"><rect x="729" y="72" width="46" height="17"/><text class="t" x="752" y="85">SMO</text></g>
<g id="n_jag1"><rect x="820" y="23" width="46" height="17"/><text class="t" x="843" y="36">JAG1</text></g>
<g id="n_dll3"><rect x="876" y="23" width="46" height="17"/><text class="t" x="899" y="36">DLL3</text></g>
<g id="n_notch1"><rect x="847" y="72" width="46" height="17"/><text class="t" x="870" y="85">NOTCH1</text></g>
<g id="n_kif7"><rect x="683" y="155" width="46" height="17"/><text class="t" x="706" y="168">KIF7</text><rect x="729" y="155" width="46" height="17"/><text class="t" x="752" y="168">SUFU</text></g>
<g id="n_gli1a"><rect x="729" y="207" width="46" height="17"/><text class="t" x="752" y="220">GLI1</text></g>
<g id="n_hh_targets"><rect x="755" y="305" width="46" height="17"/><text class="t" x="778" y="318">BMP2</text><rect x="808" y="305" width="46" height="17"/><text class="t" x="831" y="318">GLI1</text><rect x="755" y="330" width="46" height="17"/><text class="t" x="778" y="343">HHIP</text><rect x="808" y="330" width="46" height="17"/><text class="t" x="831" y="343">PTCH1</text><rect x="808" y="355" width="46" height="17"/><text class="t" x="831" y="368">WNT1</text></g>
<g id="n_notch_targets"><rect x="903" y="305" width="46" height="17"/><text class="t" x="926" y="318">ERBB2</text><rect x="877" y="330" width="46" height="17"/><text class="t" x="900" y="343">HES1</text><rect x="931" y="330" width="46" height="17"/><text class="t" x="954" y="343">HEY1</text><rect x="903" y="355" width="46" height="17"/><text class="t" x="926" y="368">FLT4</text></g>
<g id="n_gsk3b"><rect x="535" y="376" width="46" height="17"/><text class="t" x="558" y="389">GSK3B</text></g>
<g id="n_ctnnb1c"><rect x="618" y="376" width="46" height="17"/><text class="t" x="641" y="389">CTNNB1</text><rect x="581" y="393" width="46" height="17"/><text class="t" x="604" y="406">AXIN1</text><rect x="627" y="393" width="46" height="17"/><text class="t" x="650" y="406">APC</text></g>
<g id="n_klk3"><rect x="804" y="398" width="46" height="17"/><text class="t" x="827" y="411">KLK3</text></g>
<g id="n_tcf7a"><rect x="735" y="435" width="46" height="17"/><text class="t" x="758" y="448">TCF7</text></g>
<g id="n_birc5"><rect x="804" y="474" width="46" height="17"/><text class="t" x="827" y="487">BIRC5</text></g>
<g id="n_myca"><rect x="805" y="504" width="46" height="17"/><text class="t" x="828" y="517">MYC</text><rect x="805" y="525" width="46" height="17"/><text class="t" x="828" y="538">CCND1</text></g>
<g id="n_ptgs2"><rect x="790" y="551" width="46" height="17"/><text class="t" x="813" y="564">PTGS2</text><rect x="790" y="572" width="46" height="17"/><text class="t" x="813" y="585">NOS2</text></g>
<g id="n_birc2"><rect x="844" y="597" width="46" height="17"/><text class="t" x="867" y="610">BIRC2</text><rect class="g" x="844" y="619" width="46" height="17"/><text class="t" x="867" y="632">TRAF1</text></g>
<g id="n_bcl2l1a"><rect x="792" y="619" width="46" height="17"/><text class="t" x="815" y="632">BCL2L1</text><rect x="792" y="641" width="46" height="17"/><text class="t" x="815" y="654">CCND1</text><rect x="741" y="635" width="46" height="17"/><text class="t" x="764" y="648">BCL2</text></g>
<g id="n_ikbkg"><rect class="g" x="582" y="553" width="46" height="17"/><text class="t" x="605" y="566">IKBKG</text></g>
<g id="n_nfkbia"><rect x="663" y="554" width="46" height="17"/><text class="t" x="686" y="567">NFKBIA</text></g>
<g id="n_nfkb1"><rect x="663" y="587" width="46" height="17"/><text class="t" x="686" y="600">NFKB1</text></g>
<g id="n_akt2"><rect class="g" x="481" y="655" width="46" height="17"/><text class="t" x="504" y="668">AKT2</text></g>
<g id="n_mtor"><rect x="584" y="657" width="46" height="17"/><text class="t" x="607" y="670">MTOR</text></g>
<g id="n_rps6kb1"><rect x="658" y="657" width="46" height="17"/><text class="t" x="681" y="670">RPS6KB1</text></g>
<g id="n_casp9b"><rect x="584" y="685" width="46" height="17"/><text class="t" x="607" y="698">CASP9</text></g>
<g id="n_bad"><rect x="584" y="714" width="46" height="17"/><text class="t" x="607" y="727">BAD</text></g>
<g id="n_bcl2l1b"><rect x="658" y="714" width="46" height="17"/><text class="t" x="681" y="727">BCL2L1</text></g>
<g id="n_foxo1"><rect x="584" y="739" width="46" height="17"/><text class="t" x="607" y="752">FOXO1</text></g>
<g id="n_mdm2a"><rect x="584" y="764" width="46" height="17"/><text class="t" x="607" y="777">MDM2</text></g>
<g id="n_tp53a"><rect x="801" y="764" width="46" height="17"/><text class="t" x="824" y="777">TP53</text></g>
<g id="n_cdkn1b"><rect x="584" y="791" width="46" height="17"/><text class="t" x="607" y="804">CDKN1B</text></g>
<g id="n_cdkn1a"><rect x="584" y="821" width="46" height="17"/><text class="t" x="607" y="834">CDKN1A</text></g>
<g id="n_stat5a"><rect x="525" y="851" width="46" height="17"/><text class="t" x="548" y="864">STAT5A</text></g>
<g id="n_pim1"><rect x="780" y="842" width="46" height="17"/><text class="t" x="803" y="855">PIM1</text><rect x="780" y="863" width="46" height="17"/><text class="t" x="803" y="876">BCL2L1</text></g>
<g id="n_stat3"><rect x="525" y="875" width="46" height="17"/><text class="t" x="548" y="888">STAT3</text><rect x="525" y="898" width="46" height="17"/><text class="t" x="548" y="911">STAT1</text><rect x="525" y="921" width="46" height="17"/><text class="t" x="548" y="934">STAT2</text></g>
<g id="n_vegfda"><rect x="780" y="888" width="46" height="17"/><text class="t" x="803" y="901">VEGFD</text></g>
<g id="n_stk4"><rect x="633" y="921" width="46" height="17"/><text class="t" x="656" y="934">STK4</text></g>
<g id="n_ccnd1c"><rect x="633" y="947" width="46" height="17"/><text class="t" x="656" y="960">CCND1</text></g>
<g id="n_vegfdb"><rect x="868" y="960" width="46" height="17"/><text class="t" x="891" y="973">VEGFD</text><rect class="g" x="868" y="983" width="46" height="17"/><text class="t" x="891" y="996">MMP2</text><rect x="868" y="1005" width="46" height="17"/><text class="t" x="891" y="1018">CXCL8</text></g>
<g id="n_jun"><rect x="759" y="972" width="46" height="17"/><text class="t" x="782" y="985">JUN</text><rect x="759" y="995" width="46" height="17"/><text class="t" x="782" y="1008">FOS</text><rect x="759" y="1018" width="46" height="17"/><text class="t" x="782" y="1031">MYC</text><rect x="759" y="1043" width="46" height="17"/><text class="t" x="782" y="1056">ETS1</text></g>
<g id="n_map2k1"><rect x="517" y="1006" width="46" height="17"/><text class="t" x="540" y="1019">MAP2K1</text></g>
<g id="n_mapk1"><rect x="657" y="1006" width="46" height="17"/><text class="t" x="680" y="1019">MAPK1</text></g>
<g id="n_dapk1"><rect x="632" y="1053" width="46" height="17"/><text class="t" x="655" y="1066">DAPK1</text></g>
<g id="n_rps6ka5"><rect x="759" y="1074" width="46" height="17"/><text class="t" x="782" y="1087">RPS6KA5</text></g>
<g id="n_ccnd1d"><rect x="884" y="1040" width="46" height="17"/><text class="t" x="907" y="1053">CCND1</text><rect x="884" y="1062" width="46" height="17"/><text class="t" x="907" y="1075">CDK4</text><rect x="884" y="1087" width="46" height="17"/><text class="t" x="907" y="1100">MYC</text></g>
<g id="n_rala"><rect x="513" y="1137" width="46" height="17"/><text class="t" x="536" y="1150">RALA</text></g>
<g id="n_ralbp1"><rect x="589" y="1125" width="46" height="17"/><text class="t" x="612" y="1138">RALBP1</text></g>
<g id="n_rac2a"><rect class="g" x="669" y="1125" width="46" height="17"/><text class="t" x="692" y="1138">RAC2</text></g>
<g id="n_pld1"><rect x="589" y="1152" width="46" height="17"/><text class="t" x="612" y="1165">PLD1</text></g>
<g id="n_rac2b"><rect class="g" x="513" y="1185" width="46" height="17"/><text class="t" x="536" y="1198">RAC2</text></g>
<g id="n_mapk8"><rect x="589" y="1185" width="46" height="17"/><text class="t" x="612" y="1198">MAPK8</text></g>
<g id="n_egln1"><rect x="1001" y="114" width="46" height="17"/><text class="t" x="1024" y="127">EGLN1</text></g>
<g id="n_vhl"><rect x="1059" y="99" width="46" height="17"/><text class="t" x="1082" y="112">ELOB</text><rect x="1059" y="116" width="46" height="17"/><text class="t" x="1082" y="129">ELOC</text><rect x="1105" y="116" width="46" height="17"/><text class="t" x="1128" y="129">CUL2</text><rect x="1059" y="133" width="46" height="17"/><text class="t" x="1082" y="146">VHL</text><rect x="1105" y="133" width="46" height="17"/><text class="t" x="1128" y="146">RBX1</text></g>
<g id="n_fh"><rect x="907" y="135" width="46" height="17"/><text class="t" x="930" y="148">FH</text></g>
<g id="n_epas1"><rect x="1046" y="218" width="46" height="17"/><text class="t" x="1069" y="231">EPAS1</text></g>
<g id="n_keap1"><rect x="1192" y="195" width="46" height="17"/><text class="t" x="1215" y="208">KEAP1</text></g>
<g id="n_nfe2l2"><rect x="1192" y="232" width="46" height="17"/><text class="t" x="1215" y="245">NFE2L2</text></g>
<g id="n_casp3c"><rect x="1288" y="90" width="46" height="17"/><text class="t" x="1311" y="103">CASP3</text></g>
<g id="n_casp9c"><rect x="1289" y="132" width="46" height="17"/><text class="t" x="1312" y="145">CASP9</text></g>
<g id="n_apaf1"><rect x="1262" y="169" width="46" height="17"/><text class="t" x="1285" y="182">APAF1</text><rect x="1288" y="186" width="46" height="17"/><text class="t" x="1311" y="199">CYCS</text></g>
<g id="n_bak1a"><rect x="1341" y="207" width="46" height="17"/><text class="t" x="1364" y="220">BAK1</text></g>
<g id="n_bcl2b"><rect x="1404" y="225" width="46" height="17"/><text class="t" x="1427" y="238">BCL2</text><rect x="1404" y="246" width="46" height="17"/><text class="t" x="1427" y="259">BCL2L1</text></g>
<g id="n_arnt"><rect x="999" y="277" width="46" height="17"/><text class="t" x="1022" y="290">ARNT</text></g>
<g id="n_crebbp"><rect x="1095" y="297" width="46" height="17"/><text class="t" x="1118" y="310">CREBBP</text></g>
<g id="n_hif_targets"><rect x="995" y="357" width="46" height="17"/><text class="t" x="1018" y="370">SLC2A1</text><rect x="1048" y="357" width="46" height="17"/><text class="t" x="1071" y="370">VEGFD</text><rect x="1099" y="357" width="46" height="17"/><text class="t" x="1122" y="370">TGFA</text><rect x="1048" y="379" width="46" height="17"/><text class="t" x="1071" y="392">PDGFB</text><rect x="1048" y="402" width="46" height="17"/><text class="t" x="1071" y="415">TGFB1</text></g>
<g id="n_nrf2_targets"><rect x="1169" y="426" width="46" height="17"/><text class="t" x="1192" y="439">HMOX1</text><rect x="1221" y="426" width="46" height="17"/><text class="t" x="1244" y="439">NQO1</text><rect x="1169" y="449" width="46" height="17"/><text class="t" x="1192" y="462">GSTA1</text><rect x="1221" y="449" width="46" height="17"/><text class="t" x="1244" y="462">TXNRD1</text></g>
<g id="n_brca2"><rect x="1329" y="292" width="46" height="17"/><text class="t" x="1352" y="305">BRCA2</text><rect x="1329" y="309" width="46" height="17"/><text class="t" x="1352" y="322">RAD51</text></g>
<g id="n_baxa"><rect x="1412" y="398" width="46" height="17"/><text class="t" x="1435" y="411">BAX</text></g>
<g id="n_faslg"><rect x="1468" y="20" width="46" height="17"/><text class="t" x="1491" y="33">FASLG</text></g>
<g id="n_fas"><rect x="1468" y="71" width="46" height="17"/><text class="t" x="1491" y="84">FAS</text></g>
<g id="n_fadd"><rect x="1468" y="109" width="46" height="17"/><text class="t" x="1491" y="122">FADD</text></g>
<g id="n_casp8"><rect x="1468" y="146" width="46" height="17"/><text class="t" x="1491" y="159">CASP8</text></g>
<g id="n_bid"><rect x="1468" y="184" width="46" height="17"/><text class="t" x="1491" y="197">BID</text></g>
<g id="n_bh3"><rect x="1480" y="217" width="46" height="17"/><text class="t" x="1503" y="230">PMAIP1</text><rect x="1532" y="217" width="46" height="17"/><text class="t" x="1555" y="230">BBC3</text><rect x="1480" y="239" width="46" height="17"/><text class="t" x="1503" y="252">BAD</text><rect x="1532" y="239" width="46" height="17"/><text class="t" x="1555" y="252">BCL2L11</text></g>
<g id="n_mlh1"><rect x="1533" y="288" width="46" height="17"/><text class="t" x="1556" y="301">MLH1</text><rect x="1534" y="310" width="46" height="17"/><text class="t" x="1557" y="323">MSH2</text></g>
<g id="n_msh3"><rect x="1465" y="398" width="46" height="17"/><text class="t" x="1488" y="411">MSH3</text><rect x="1467" y="420" width="46" height="17"/><text class="t" x="1490" y="433">MSH6</text></g>
<g id="n_tgfbr2a"><rect x="1519" y="398" width="46" height="17"/><text class="t" x="1542" y="411">TGFBR2</text></g>
<g id="n_tgfb1b"><rect x="1618" y="20" width="46" height="17"/><text class="t" x="1641" y="33">TGFB1</text></g>
<g id="n_tgfbr1"><rect x="1618" y="63" width="46" height="17"/><text class="t" x="1641" y="76">TGFBR1</text><rect x="1618" y="80" width="46" height="17"/><text class="t" x="1641" y="93">TGFBR2</text></g>
<g id="n_smad2"><rect x="1618" y="131" width="46" height="17"/><text class="t" x="1641" y="144">SMAD2</text></g>
<g id="n_smad4"><rect x="1688" y="131" width="46" height="17"/><text class="t" x="1711" y="144">SMAD4</text></g>
<g id="n_gstp1"><rect x="1790" y="180" width="46" height="17"/><text class="t" x="1813" y="193">GSTP1</text></g>
<g id="n_mecom"><rect x="1674" y="277" width="46" height="17"/><text class="t" x="1697" y="290">MECOM</text><rect x="1674" y="299" width="46" height="17"/><text class="t" x="1697" y="312">RUNX1</text></g>
<g id="n_ctbp1"><rect x="1686" y="345" width="46" height="17"/><text class="t" x="1709" y="358">CTBP1</text><rect x="1686" y="362" width="46" height="17"/><text class="t" x="1709" y="375">HDAC1</text></g>
<g id="n_gadd45a"><rect x="1323" y="584" width="46" height="17"/><text class="t" x="1346" y="597">GADD45A</text><rect x="1271" y="607" width="46" height="17"/><text class="t" x="1294" y="620">BAX</text><rect x="1323" y="607" width="46" height="17"/><text class="t" x="1346" y="620">BAK1</text><rect x="1271" y="629" width="46" height="17"/><text class="t" x="1294" y="642">DDB2</text><rect x="1323" y="629" width="46" height="17"/><text class="t" x="1346" y="642">POLK</text></g>
<g id="n_tp53b"><rect x="1423" y="541" width="46" height="17"/><text class="t" x="1446" y="554">TP53</text></g>
<g id="n_mdm2b"><rect x="1469" y="579" width="46" height="17"/><text class="t" x="1492" y="592">MDM2</text></g>
<g id="n_cdkn2a1"><rect x="1546" y="579" width="46" height="17"/><text class="t" x="1569" y="592">CDKN2A</text></g>
<g id="n_mitf"><rect x="1545" y="538" width="46" height="17"/><text class="t" x="1568" y="551">MITF</text></g>
<g id="n_tert"><rect x="1573" y="633" width="46" height="17"/><text class="t" x="1596" y="646">TERT</text><rect x="1573" y="650" width="46" height="17"/><text class="t" x="1596" y="663">TERC</text></g>
<g id="n_cdkn2a2"><rect x="1300" y="668" width="46" height="17"/><text class="t" x="1323" y="681">CDKN2A</text></g>
<g id="n_cdkn1a2"><rect x="1392" y="672" width="46" height="17"/><text class="t" x="1415" y="685">CDKN1A</text></g>
<g id="n_rb1"><rect x="1244" y="720" width="46" height="17"/><text class="t" x="1267" y="733">RB1</text></g>
<g id="n_e2f1a"><rect x="1244" y="758" width="46" height="17"/><text class="t" x="1267" y="771">E2F1</text></g>
<g id="n_cdk4b"><rect x="1338" y="712" width="46" height="17"/><text class="t" x="1361" y="725">CDK4</text><rect x="1338" y="729" width="46" height="17"/><text class="t" x="1361" y="742">CCND1</text></g>
<g id="n_cdk2"><rect x="1315" y="770" width="46" height="17"/><text class="t" x="1338" y="783">CDK2</text><rect x="1315" y="787" width="46" height="17"/><text class="t" x="1338" y="800">CCNE1</text></g>
<g id="n_cdkn2b"><rect x="1431" y="724" width="46" height="17"/><text class="t" x="1454" y="737">CDKN2B</text></g>
<g id="n_zbtb17"><rect x="1558" y="724" width="46" height="17"/><text class="t" x="1581" y="737">ZBTB17</text></g>
<g id="n_mycmax"><rect x="1636" y="732" width="46" height="17"/><text class="t" x="1659" y="745">MYC</text><rect x="1636" y="749" width="46" height="17"/><text class="t" x="1659" y="762">MAX</text></g>
<g id="n_cdkn1b2"><rect x="1397" y="805" width="46" height="17"/><text class="t" x="1420" y="818">CDKN1B</text></g>
<g id="n_cks1b"><rect x="1478" y="812" width="46" height="17"/><text class="t" x="1501" y="825">CKS1B</text></g>
<g id="n_skp1"><rect x="1434" y="858" width="46" height="17"/><text class="t" x="1457" y="871">SKP1</text><rect x="1434" y="875" width="46" height="17"/><text class="t" x="1457" y="888">SKP2</text></g>
<g id="n_ccna1"><rect x="1416" y="1010" width="46" height="17"/><text class="t" x="1439" y="1023">CCNA1</text></g>
<g id="n_ccnd1f"><rect x="1300" y="970" width="46" height="17"/><text class="t" x="1323" y="983">CCND1</text><rect x="1300" y="995" width="46" height="17"/><text class="t" x="1323" y="1008">MYC</text><rect x="1300" y="1017" width="46" height="17"/><text class="t" x="1323" y="1030">PPARD</text></g>
<g id="n_tcf7b"><rect x="1257" y="1168" width="46" height="17"/><text class="t" x="1280" y="1181">TCF7</text></g>
<g id="n_jup"><rect class="g" x="1301" y="1195" width="46" height="17"/><text class="t" x="1324" y="1208">JUP</text></g>
<g id="n_esr1a"><rect x="1198" y="1055" width="46" height="17"/><text class="t" x="1221" y="1068">ESR1</text><rect x="1198" y="1072" width="46" height="17"/><text class="t" x="1221" y="1085">NCOA3</text><rect x="1198" y="1089" width="46" height="17"/><text class="t" x="1221" y="1102">FOS</text></g>
<g id="n_esr1b"><rect x="1198" y="1175" width="46" height="17"/><text class="t" x="1221" y="1188">ESR1</text></g>
<g id="n_rarb"><rect x="1136" y="1087" width="46" height="17"/><text class="t" x="1159" y="1100">RARB</text><rect x="1136" y="1104" width="46" height="17"/><text class="t" x="1159" y="1117">RXRA</text></g>
<g id="n_rxra2"><path d="M1067,1103H1021V1120H1067" fill="#fff" stroke="#000"/><text class="t" x="1044" y="1116">RXRA</text></g>
<g id="n_pparg1"><rect x="1079" y="1103" width="46" height="17"/><text class="t" x="1102" y="1116">PPARG</text></g>
<g id="n_pparg2"><rect x="978" y="1130" width="46" height="17"/><text class="t" x="1001" y="1143">PPARG</text></g>
<g id="n_rara"><rect x="1417" y="1118" width="46" height="17"/><text class="t" x="1440" y="1131">RARA</text></g>
<g id="n_pml"><rect x="1477" y="1118" width="46" height="17"/><text class="t" x="1500" y="1131">PML</text></g>
<g id="n_runx1b"><rect x="1559" y="1118" width="46" height="17"/><text class="t" x="1582" y="1131">RUNX1</text></g>
<g id="n_pu1_targets"><rect x="1524" y="915" width="46" height="17"/><text class="t" x="1547" y="928">CSF2RA</text><rect x="1524" y="937" width="46" height="17"/><text class="t" x="1547" y="950">CSF3R</text><rect x="1574" y="937" width="46" height="17"/><text class="t" x="1597" y="950">CSF1R</text></g>
<g id="n_cebpa_targets"><rect x="1645" y="915" width="46" height="17"/><text class="t" x="1668" y="928">CSF3R</text><rect x="1698" y="915" width="46" height="17"/><text class="t" x="1721" y="928">E2F1</text><rect x="1645" y="937" width="46" height="17"/><text class="t" x="1668" y="950">IL6</text><rect x="1698" y="937" width="46" height="17"/><text class="t" x="1721" y="950">MYC</text></g>
<g id="n_aml1_targets"><rect x="1766" y="915" width="46" height="17"/><text class="t" x="1789" y="928">CSF1R</text><rect x="1766" y="937" width="46" height="17"/><text class="t" x="1789" y="950">TCR</text></g>
<g id="n_spi1a"><rect x="1519" y="1061" width="46" height="17"/><text class="t" x="1542" y="1074">SPI1</text></g>
<g id="n_spi1b"><rect x="1576" y="1061" width="46" height="17"/><text class="t" x="1599" y="1074">SPI1</text></g>
<g id="n_cebpa1"><rect x="1638" y="1061" width="46" height="17"/><text class="t" x="1661" y="1074">CEBPA</text></g>
<g id="n_cebpa2"><rect x="1698" y="1061" width="46" height="17"/><text class="t" x="1721" y="1074">CEBPA</text></g>
<g id="n_runx1c"><rect x="1786" y="1063" width="46" height="17"/><text class="t" x="1809" y="1076">RUNX1</text></g>
</g>

<g id="legend">
<rect x="1634" y="32" width="24" height="32" fill="#1cff12"/>
<rect x="1658" y="32" width="24" height="32" fill="#30f030"/>
<rect x="1682" y="32" width="24" height="32" fill="#52dc52"/>
<rect x="1706" y="32" width="24" height="32" fill="#80c880"/>
<rect x="1730" y="32" width="24" height="32" fill="#b0b0b0"/>
<rect x="1754" y="32" width="24" height="32" fill="#b0b0b0"/>
<rect x="1778" y="32" width="24" height="32" fill="#c07a7a"/>
<rect x="1802" y="32" width="24" height="32" fill="#d84a4e"/>
<rect x="1826" y="32" width="24" height="32" fill="#e81c2a"/>
<rect x="1850" y="32" width="24" height="32" fill="#ff0000"/>
<path d="M1658,32V72M1682,32V72M1706,32V72M1730,32V72M1754,32V72M1778,32V72M1802,32V72M1826,32V72M1850,32V72M1874,32V72" stroke="#222" stroke-width="1"/>
<text class="t" x="1632" y="106" style="font-size:22px">-1</text>
<text class="t" x="1756" y="106" style="font-size:22px">0</text>
<text class="t" x="1876" y="106" style="font-size:22px">1</text>
</g>
</svg>
